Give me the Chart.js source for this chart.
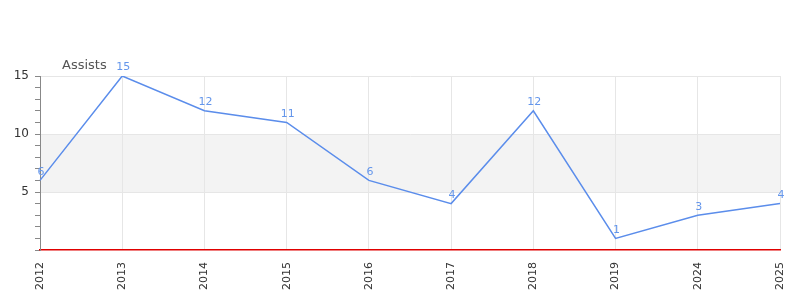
<!DOCTYPE html>
<html>
<head>
<meta charset="utf-8">
<script src="https://cdn.jsdelivr.net/npm/chart.js@4"></script>
<style>
  html, body { margin: 0; padding: 0; background: #fff; }
  #wrap { width: 800px; height: 300px; }
</style>
</head>
<body>
<div id="wrap"><canvas id="assistsChart" width="800" height="300"></canvas></div>
<script>
const YEARS = ['2012', '2013', '2014', '2015', '2016', '2017', '2018', '2019', '2024', '2025'];
const ASSISTS = [6, 15, 12, 11, 6, 4, 12, 1, 3, 4];
const BAND = [5, 10];
const Y_MAX = 15;

const LINE_COLOR = 'rgb(91, 141, 235)';
const FONT = 'DejaVu Sans, Verdana, sans-serif';

// --- band, title, labels ---
const extras = {
    id: 'extras',
    beforeDraw(chart) {
        const { ctx, chartArea, scales } = chart;
        const yTop = scales.y.getPixelForValue(BAND[1]);
        const yBot = scales.y.getPixelForValue(BAND[0]);
        ctx.save();
        ctx.fillStyle = '#f3f3f3';
        ctx.fillRect(chartArea.left, yTop, chartArea.right - chartArea.left, yBot - yTop);
        ctx.restore();
    },
    afterDraw(chart) {
        const { ctx } = chart;
        ctx.save();
        // title
        ctx.fillStyle = '#555';
        ctx.font = '13px ' + FONT;
        ctx.textAlign = 'left';
        ctx.textBaseline = 'middle';
        ctx.fillText('Assists', 62, 66);

        // value labels
        ctx.fillStyle = 'rgb(100, 150, 235)';
        ctx.font = '11px ' + FONT;
        ctx.textAlign = 'center';
        ctx.textBaseline = 'bottom';
        chart.getDatasetMeta(0).data.forEach((pt, i) => {
            ctx.fillText(String(ASSISTS[i]), pt.x + 1, pt.y - 3);
        });
        ctx.restore();
    }
};

const ctxAssists = document.getElementById('assistsChart').getContext('2d');
new Chart(ctxAssists, {
    type: 'line',
    data: {
        labels: YEARS,
        datasets: [{
            label: 'Assists',
            data: ASSISTS,
            borderColor: LINE_COLOR,
            borderWidth: 1.5,
            pointRadius: 0,
            tension: 0,
            fill: false
        }]
    },
    options: {
        responsive: false,
        animation: false,
        layout: { padding: { top: 76, right: 20, left: 0, bottom: 0 } },
        plugins: { legend: { display: false }, tooltip: { enabled: false }, title: { display: false } },
        scales: {
            x: {
                offset: false,
                grid: { color: '#e6e6e6', drawTicks: false },
                border: { color: '#e00000', width: 1.5 },
                ticks: {
                    maxRotation: 90, minRotation: 90, padding: 12,
                    color: '#333', font: { family: FONT, size: 11 }
                },
                afterFit: s => { s.height = 50; s.paddingRight = 0; s.paddingLeft = 0; }
            },
            y: {
                min: 0,
                max: Y_MAX,
                grid: {
                    color: c => (c.tick && c.tick.value % 5 === 0 && c.tick.value !== 0) ? '#e6e6e6' : 'rgba(0,0,0,0)',
                    tickColor: '#888',
                    tickLength: 5
                },
                border: { color: '#888', width: 1 },
                ticks: {
                    stepSize: 1,
                    autoSkip: false,
                    padding: 6,
                    color: '#333',
                    font: { family: FONT, size: 12 },
                    callback: v => (v % 5 === 0 && v !== 0) ? v : ''
                },
                afterFit: s => { s.width = 40; }
            }
        }
    },
    plugins: [extras]
});
</script>
</body>
</html>
